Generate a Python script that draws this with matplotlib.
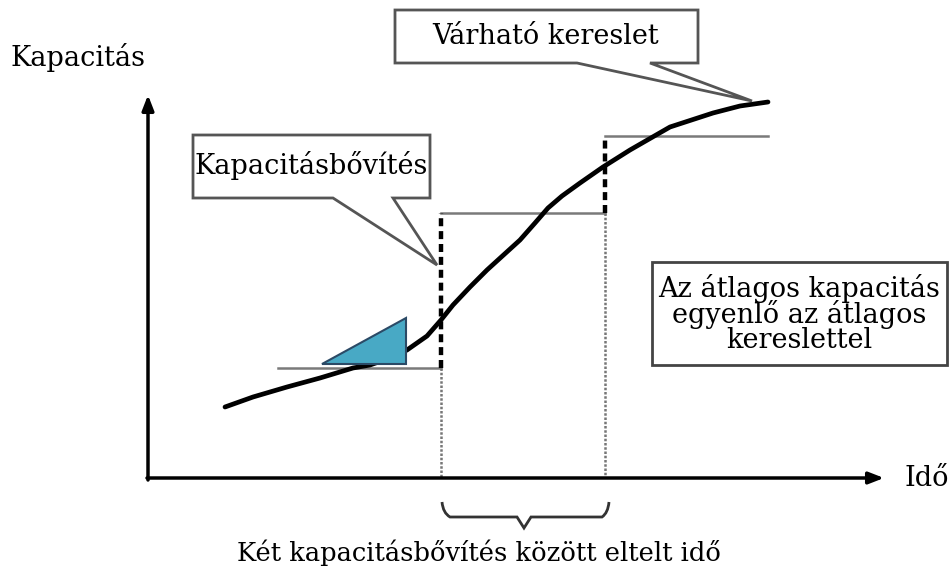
import matplotlib
matplotlib.use("Agg")
import matplotlib.pyplot as plt
from matplotlib.patches import Polygon, Rectangle
from matplotlib.path import Path
from matplotlib.patches import PathPatch

# ---- data (diagram units: x = time, y = capacity; drawn on a pixel-like scale) ----
demand_t = [225, 253, 287, 320, 353, 370, 390, 407, 427, 441, 453, 470, 487, 520, 535,
            548, 562, 580, 603, 630, 670, 713, 740, 768]
demand_y = [407, 397, 387, 378, 368, 365, 358, 350, 336, 320, 305, 287, 270, 240, 223,
            208, 196, 183, 167, 150, 127, 113, 106, 102]

step_t = [278, 441, 605, 768]          # capacity change times (start, exp1, exp2, end)
step_levels = [368, 213, 136]          # capacity levels
axis_origin = (148, 478)

labels = {
    "y": "Kapacitás",
    "x": "Idő",
    "bottom": "Két kapacitásbővítés között eltelt idő",
    "demand": "Várható kereslet",
    "expansion": "Kapacitásbővítés",
    "note": "Az átlagos kapacitás\negyenlő az átlagos\nkereslettel",
}

SERIF = ["DejaVu Serif"]
FS = 19.5

fig = plt.figure(figsize=(9.52, 5.73), dpi=100)
ax = fig.add_axes([0, 0, 1, 1])
ax.set_xlim(0, 952)
ax.set_ylim(573, 0)
ax.axis("off")

ox, oy = axis_origin
# axes with arrowheads
ax.annotate("", xy=(ox, 95), xytext=(ox, oy + 2),
            arrowprops=dict(arrowstyle="-|>,head_length=0.9,head_width=0.35", lw=2.5, color="black",
                            shrinkA=0, shrinkB=0))
ax.annotate("", xy=(884, oy), xytext=(ox - 1, oy),
            arrowprops=dict(arrowstyle="-|>,head_length=0.9,head_width=0.35", lw=2.5, color="black",
                            shrinkA=0, shrinkB=0))

# capacity horizontal levels
for i, lvl in enumerate(step_levels):
    ax.plot([step_t[i], step_t[i + 1]], [lvl, lvl], color="#7a7a7a", lw=1.8, zorder=2)

# vertical expansion lines: thick dashed above, thin dotted below
for i in (1, 2):
    t = step_t[i]
    ax.plot([t, t], [step_levels[i - 1], step_levels[i]], color="black", lw=3.2,
            dashes=(1.8, 1.1), zorder=3)
    ax.plot([t, t], [step_levels[i - 1], oy], color="#777777", lw=1.8,
            dashes=(1, 0.7), zorder=2)

# demand curve
ax.plot(demand_t, demand_y, color="black", lw=3.4, solid_capstyle="round",
        solid_joinstyle="round", zorder=4)

# teal triangle
tri = Polygon([(322, 364), (406, 318), (406, 364)], closed=True, facecolor="#48a9c5",
              edgecolor="#2b4a66", lw=1.5, zorder=5)
ax.add_patch(tri)

# callout boxes
box_kw = dict(closed=True, facecolor="white", edgecolor="#555555", lw=2.0, zorder=6)
ax.add_patch(Polygon([(395, 10), (698, 10), (698, 63), (650, 63), (752, 101),
                      (577, 63), (395, 63)], **box_kw))
ax.text(546, 37, labels["demand"], ha="center", va="center", fontsize=FS,
        family=SERIF, zorder=7)

ax.add_patch(Polygon([(193, 135), (430, 135), (430, 198), (393, 198), (437, 265),
                      (333, 198), (193, 198)], **box_kw))
ax.text(311, 166, labels["expansion"], ha="center", va="center", fontsize=FS,
        family=SERIF, zorder=7)

ax.add_patch(Rectangle((652, 262), 295, 103, facecolor="white", edgecolor="#444444",
                       lw=2.0, zorder=6))
ax.text(799, 314, labels["note"], ha="center", va="center", fontsize=FS,
        family=SERIF, linespacing=0.88, zorder=7)

# axis labels
ax.text(10, 57, labels["y"], ha="left", va="center", fontsize=FS, family=SERIF)
ax.text(904, 478, labels["x"], ha="left", va="center", fontsize=FS, family=SERIF)
ax.text(479, 553, labels["bottom"], ha="center", va="center", fontsize=18.5, family=SERIF)

# brace
verts = [(442, 502), (443, 513), (450, 517), (517, 517), (524, 528),
         (531, 517), (602, 517), (608, 513), (609, 502)]
codes = [Path.MOVETO, Path.CURVE3, Path.CURVE3, Path.LINETO, Path.LINETO,
         Path.LINETO, Path.LINETO, Path.CURVE3, Path.CURVE3]
ax.add_patch(PathPatch(Path(verts, codes), facecolor="none", edgecolor="#333333", lw=2))

fig.savefig("out.png", dpi=100)
